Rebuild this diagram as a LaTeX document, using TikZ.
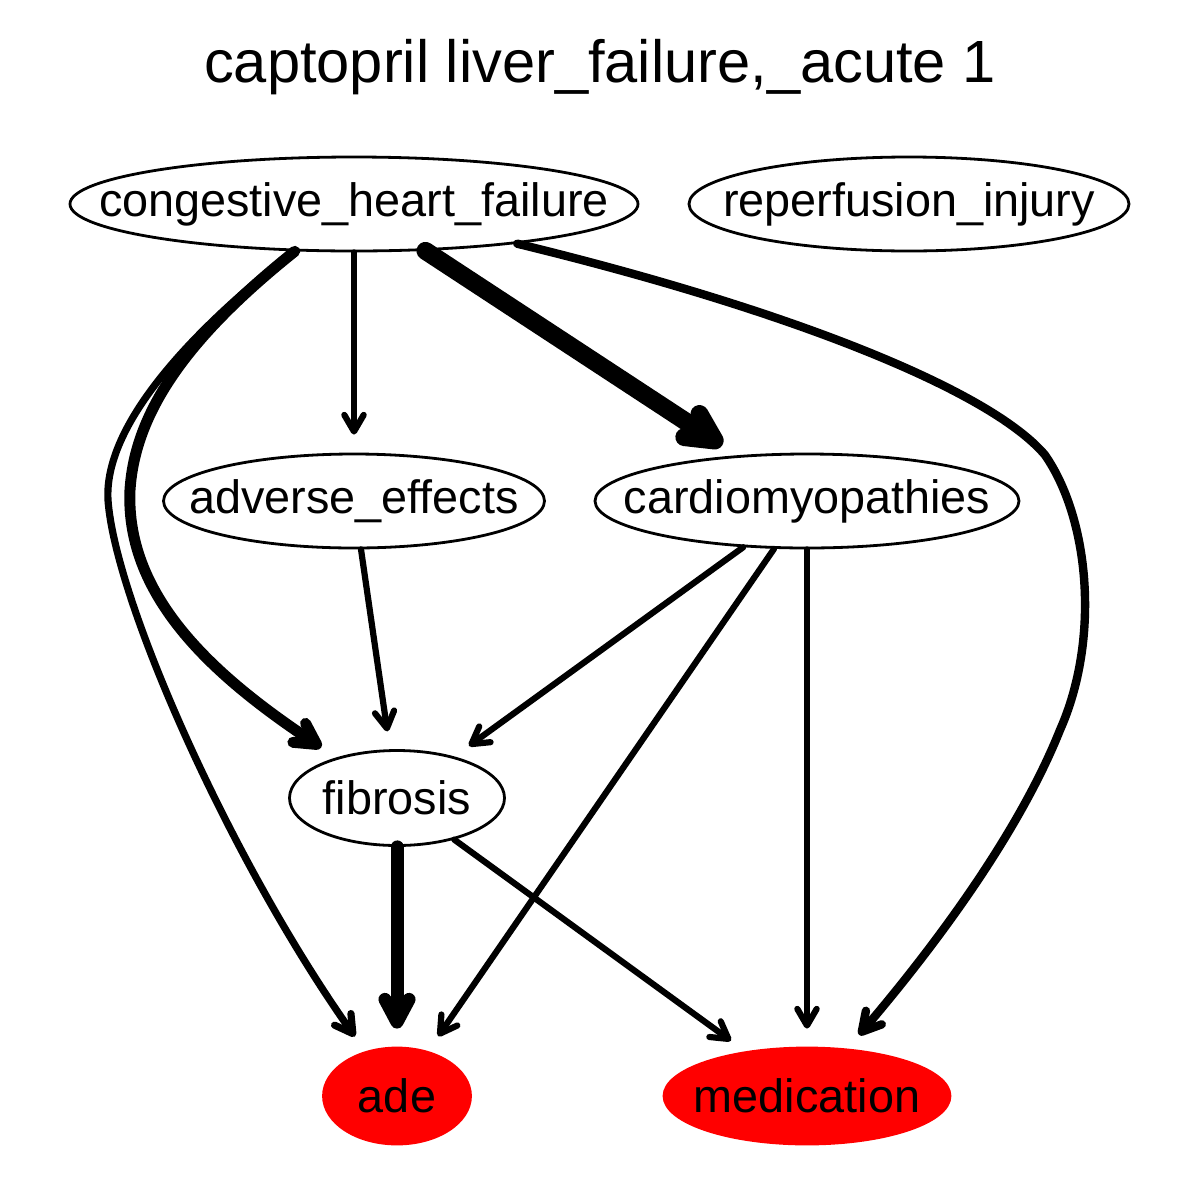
\documentclass[tikz,border=0pt]{standalone}
\usepackage{fontspec}
\setmainfont{Liberation Sans}
\usetikzlibrary{shapes.geometric,arrows.meta}

\begin{document}
\begin{tikzpicture}[x=0.5pt,y=-0.5pt,
  concept/.style={ellipse,draw,line width=1.4pt,inner sep=0pt,
    font=\fontsize{23.4}{28}\selectfont},
  target/.style={concept,fill=red,draw=red},
  link/.style={line width=#1,line cap=round,shorten >=9pt,
    -{Straight Barb[round,length=5.5pt 0.9,width=7.5pt 0.7]}},
  link/.default=3.1pt]
  \useasboundingbox (0,0) rectangle (1200,1200);
  \node[anchor=base,font=\fontsize{29.8}{36}\selectfont] (title) at (600,82) {captopril liver\_failure,\_acute 1};
  % nodes
  \node[concept,minimum width=284pt,minimum height=47pt] (chf) at (354,204) {\makebox[0pt]{congestive\_heart\_failure}};
  \node[concept,minimum width=220pt,minimum height=47pt] (reperf) at (909,204) {\makebox[0pt]{reperfusion\_injury}};
  \node[concept,minimum width=190.5pt,minimum height=47pt] (adverse) at (354,501) {\makebox[0pt]{adverse\_effects}};
  \node[concept,minimum width=212pt,minimum height=47pt] (cardio) at (807,501) {\makebox[0pt]{cardiomyopathies}};
  \node[concept,minimum width=107.5pt,minimum height=47.5pt] (fibro) at (397,798) {\makebox[0pt]{fibrosis}};
  \node[target,minimum width=73.5pt,minimum height=48pt] (ade) at (397,1096) {\makebox[0pt]{ade}};
  \node[target,minimum width=143pt,minimum height=48pt] (med) at (807,1096) {\makebox[0pt]{medication}};
  % edges
  \draw[link] (chf) -- (adverse);
  \draw[link=9pt] (chf) -- (cardio);
  \draw[link=5.5pt] (chf) .. controls (190,335) and (135,410) .. (130,490)
    .. controls (125,600) and (220,680) .. (fibro);
  \draw[link=3.6pt] (chf) .. controls (180,340) and (104,430) .. (108,500)
    .. controls (115,600) and (230,860) .. (ade);
  \draw[link=4.2pt] (chf) .. controls (790,310) and (990,390) .. (1045,455)
    .. controls (1090,520) and (1100,640) .. (1060,730)
    .. controls (1020,830) and (940,940) .. (med);
  \draw[link] (adverse) -- (fibro);
  \draw[link] (cardio) -- (fibro);
  \draw[link] (cardio) -- (ade);
  \draw[link] (cardio) -- (med);
  \draw[link=6.5pt] (fibro) -- (ade);
  \draw[link] (fibro) -- (med);
\end{tikzpicture}
\end{document}
